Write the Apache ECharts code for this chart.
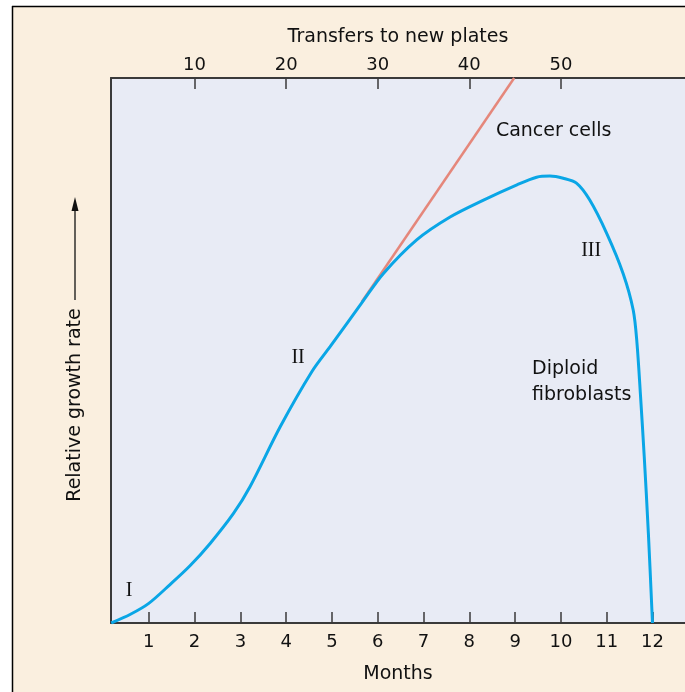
<!DOCTYPE html>
<html><head><meta charset="utf-8">
<script src="https://cdn.jsdelivr.net/npm/echarts@6/dist/echarts.min.js"></script>
<style>html,body{margin:0;padding:0;background:#ffffff}#c{width:685px;height:692px}</style>
</head><body><div id="c"></div>
<script>
// ---- data ----
const months = [0.18, 0.6, 1.0, 1.47, 1.9, 2.34, 2.85, 3.21, 3.87, 4.56, 4.96, 5.69, 6.12, 6.85, 7.58, 8.31, 9.04, 9.47, 9.76, 10.05, 10.34, 10.63, 11.0, 11.36, 11.58, 11.66, 11.74, 11.82, 11.91, 12.0];
const diploid = [0, 1.6, 3.6, 7.1, 10.5, 14.6, 20.1, 25.0, 36.0, 46.1, 50.7, 59.2, 64.1, 70.3, 74.5, 77.6, 80.4, 81.8, 82.0, 81.6, 80.7, 77.6, 71.5, 64.1, 57.4, 51.5, 41.5, 30.5, 16.5, 0];
const cancerMonths = [5.65, 8.98];
const cancer = [58.9, 100];
const monthTicks = [1, 2, 3, 4, 5, 6, 7, 8, 9, 10, 11, 12];
const transferTicks = [10, 20, 30, 40, 50];

const FONT = '"DejaVu Sans", "Liberation Sans", Arial, sans-serif';
const SERIF = '"Liberation Serif", "DejaVu Serif", serif';
const AXIS = '#3a3a3a';

const chart = echarts.init(document.getElementById('c'), null, {renderer: 'canvas'});

const option = {
  animation: false,
  backgroundColor: 'transparent',
  grid: {left: 111, right: 0, top: 78, bottom: 69, show: true, backgroundColor: '#e8ebf5', borderWidth: 0},
  xAxis: [
    {
      type: 'value', position: 'bottom', min: 0.175, max: 12.71,
      name: 'Months', nameLocation: 'middle', nameGap: 42,
      nameTextStyle: {fontFamily: FONT, fontSize: 19, color: '#111'},
      axisLine: {show: true, onZero: false, lineStyle: {color: AXIS, width: 2}},
      axisTick: {show: true, inside: true, length: 11, customValues: monthTicks, lineStyle: {color: AXIS, width: 1.5}},
      axisLabel: {show: true, customValues: monthTicks, margin: 10, fontFamily: FONT, fontSize: 18, color: '#111'},
      splitLine: {show: false}
    },
    {
      type: 'value', position: 'top', min: 0.875, max: 63.55,
      name: 'Transfers to new plates', nameLocation: 'middle', nameGap: 31,
      nameTextStyle: {fontFamily: FONT, fontSize: 19, color: '#111'},
      axisLine: {show: true, onZero: false, lineStyle: {color: AXIS, width: 2}},
      axisTick: {show: true, inside: true, length: 11, customValues: transferTicks, lineStyle: {color: AXIS, width: 1.5}},
      axisLabel: {show: true, customValues: transferTicks, margin: 4, fontFamily: FONT, fontSize: 18, color: '#111'},
      splitLine: {show: false}
    }
  ],
  yAxis: {
    type: 'value', min: 0, max: 100,
    axisLine: {show: true, onZero: false, lineStyle: {color: AXIS, width: 2}},
    axisTick: {show: false}, axisLabel: {show: false}, splitLine: {show: false}
  },
  series: [
    {
      name: 'Cancer cells', type: 'line', xAxisIndex: 0, yAxisIndex: 0,
      data: cancerMonths.map((m, i) => [m, cancer[i]]),
      showSymbol: false, lineStyle: {color: '#e5877b', width: 2.5}, z: 2
    },
    {
      name: 'Diploid fibroblasts', type: 'line', xAxisIndex: 0, yAxisIndex: 0,
      data: months.map((m, i) => [m, diploid[i]]),
      smooth: 0.3, showSymbol: false, lineStyle: {color: '#0aa6e6', width: 3}, z: 3
    }
  ]
};
chart.setOption(option);

function px(m, v) { return chart.convertToPixel({xAxisIndex: 0, yAxisIndex: 0}, [m, v]); }
function txt(pos, text, font, size, align) {
  return {type: 'text', x: pos[0], y: pos[1], z: 20,
    style: {text: text, fontFamily: font, fontSize: size, fill: '#111',
      align: align, textAlign: align, verticalAlign: 'middle', textVerticalAlign: 'middle', lineHeight: 26}};
}
const graphics = [
  {type: 'rect', z: -5, shape: {x: 12, y: 6, width: 700, height: 700}, style: {fill: '#faefdf'}},
  {type: 'line', z: 10, shape: {x1: 12, y1: 6.5, x2: 700, y2: 6.5}, style: {stroke: '#000', lineWidth: 1.5}},
  {type: 'line', z: 10, shape: {x1: 12.5, y1: 6, x2: 12.5, y2: 700}, style: {stroke: '#000', lineWidth: 1.5}},
  {type: 'text', x: 75, y: 405, rotation: Math.PI / 2, z: 20,
    style: {text: 'Relative growth rate', fontFamily: FONT, fontSize: 19, fill: '#111',
      align: 'center', textAlign: 'center', verticalAlign: 'middle', textVerticalAlign: 'middle'}},
  {type: 'line', z: 20, shape: {x1: 75, y1: 300, x2: 75, y2: 206}, style: {stroke: '#111', lineWidth: 1.3}},
  {type: 'polygon', z: 20, shape: {points: [[75, 197], [71.5, 211], [78.5, 211]]}, style: {fill: '#111'}},
  txt(px(0.57, 6.0), 'I', SERIF, 20, 'center'),
  txt(px(4.26, 48.7), 'II', SERIF, 20, 'center'),
  txt(px(10.66, 68.3), 'III', SERIF, 20, 'center'),
  txt(px(8.58, 90.3), 'Cancer cells', FONT, 19, 'left'),
  txt(px(9.37, 44.2), 'Diploid\nfibroblasts', FONT, 19, 'left')
];
chart.setOption({graphic: graphics});
</script>
</body></html>
